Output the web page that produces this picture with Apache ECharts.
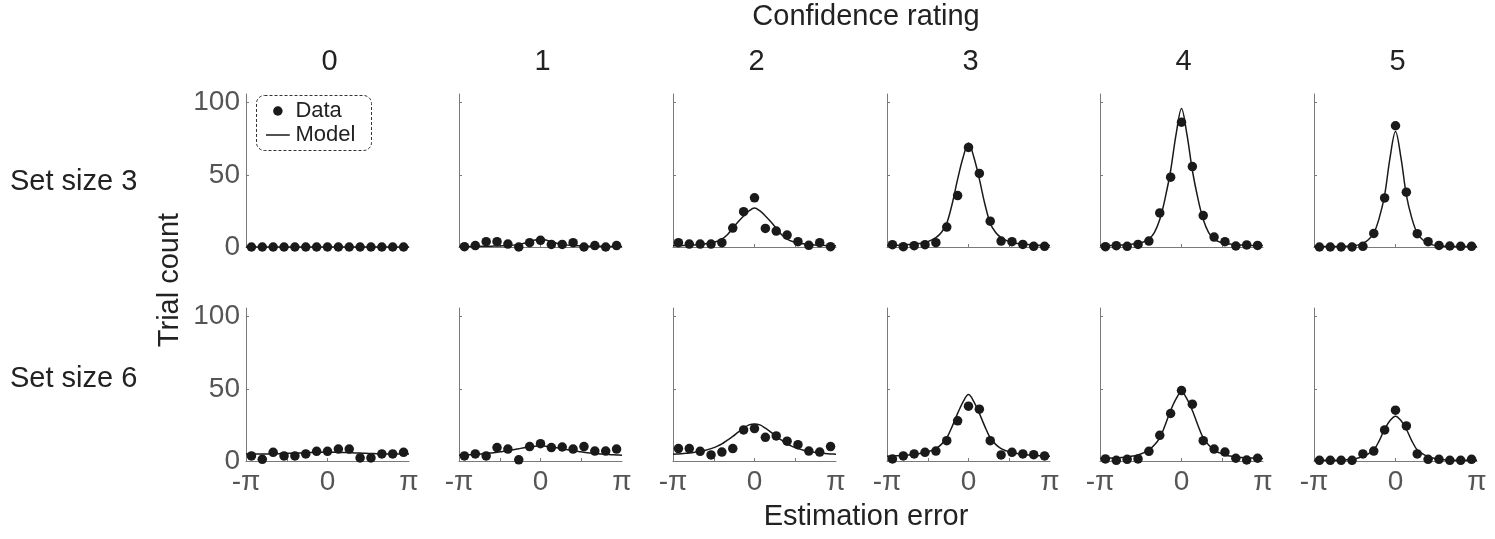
<!DOCTYPE html>
<html><head><meta charset="utf-8">
<script src="https://cdn.jsdelivr.net/npm/echarts@6/dist/echarts.min.js"></script>
<style>html,body{margin:0;padding:0;background:#fff}#c{width:1495px;height:539px}</style>
</head><body><div id="c"></div>
<script>
// ---------- data ----------
const confidenceLevels = ['0','1','2','3','4','5'];
const setSizes = ['Set size 3','Set size 6'];
const xTickLabels = ['-π','0','π'];
const yTickValues = [0,50,100];
const nBins = 15;      // data bins over [-π, π]
const nModelPts = 31;  // model samples over [-π, π]

// Set size 3
const data_ss3_c0 = [0,0,0,0,0,0,0,0,0,0,0,0,0,0,0];
const model_ss3_c0 = [0,0,0,0,0,0,0,0,0,0,0,0,0,0,0,0,0,0,0,0,0,0,0,0,0,0,0,0,0,0,0];
const data_ss3_c1 = [0.2,1,3.7,3.7,2,0,3,4.6,1.8,1.8,3,0,1,0,1];
const model_ss3_c1 = [0.4,0.4,0.4,0.4,0.5,0.5,0.6,0.7,0.8,1.0,1.3,1.8,2.6,3.6,4.8,5.5,4.8,3.6,2.6,1.8,1.3,1.0,0.8,0.7,0.6,0.5,0.5,0.4,0.4,0.4,0.4];
const data_ss3_c2 = [3,2,2,2,3,13.1,24.5,34.1,12.9,11,8.3,3.7,1.2,3,0.2];
const model_ss3_c2 = [0.8,0.9,1.0,1.2,1.4,1.8,2.2,2.8,3.8,5.5,8.5,13,17.5,21.5,25,27,25,21.5,17.5,13,8.5,5.5,3.8,2.8,2.2,1.8,1.4,1.2,1.0,0.9,0.8];
const data_ss3_c3 = [1.6,0.2,0.9,1.6,3,13.8,35.6,69,51,17.9,4.1,3.7,1.8,0.5,0.5];
const model_ss3_c3 = [1,1,1.2,1.4,1.7,2,2.5,3,4.5,6.5,10,16.5,30,47,62,72,62,47,30,16.5,10,6.5,4.5,3,2.5,2,1.7,1.4,1.2,1,1];
const data_ss3_c4 = [0.2,0.9,0.5,1.8,4.1,23.6,48.4,86.5,55.7,21.8,6.9,3.7,0.7,1.4,1.1];
const model_ss3_c4 = [1,1,1.1,1.2,1.3,1.5,2,2.5,3.5,5.5,10,19,34,53,78,96,78,53,34,19,10,5.5,3.5,2.5,2,1.5,1.3,1.2,1.1,1,1];
const data_ss3_c5 = [0,0,0,0,0.5,9.4,34,84,38,9.2,3.7,1.1,0.7,0.5,0.5];
const model_ss3_c5 = [0.3,0.3,0.3,0.3,0.3,0.4,0.5,0.8,1.3,2.5,5,9.5,20,36,62,80,62,36,20,9.5,5,2.5,1.3,0.8,0.5,0.4,0.3,0.3,0.3,0.3,0.3];

// Set size 6
const data_ss6_c0 = [3.5,1.2,6,3.5,3.5,4.9,6.7,6.7,8.3,8.3,2.1,2.1,4.9,4.9,6];
const model_ss6_c0 = [4.8,4.8,4.8,4.9,4.9,5.0,5.1,5.2,5.3,5.5,5.6,5.8,5.9,6.0,6.1,6.2,6.1,6.0,5.9,5.8,5.6,5.5,5.3,5.2,5.1,5.0,4.9,4.9,4.8,4.8,4.8];
const data_ss6_c1 = [3.5,4.9,3.5,9.3,8.3,0.8,10,12,9.3,9.7,8.3,10,6.9,6.9,8.3];
const model_ss6_c1 = [4.0,4.2,4.4,4.6,4.9,5.2,5.6,6.0,6.6,7.2,7.8,8.5,9.2,9.8,10.3,10.5,10.3,9.8,9.2,8.5,7.8,7.2,6.6,6.0,5.6,5.2,4.9,4.6,4.4,4.2,4.0];
const data_ss6_c2 = [8.6,8.6,6.7,4.2,6.2,8.6,21.5,22.5,16.4,17.4,13.7,11.3,6.9,6.2,10];
const model_ss6_c2 = [4.6,4.9,5.2,5.5,6,6.7,7.5,8.6,10,11.8,14.5,17,20,22.7,25,25.7,25,22.7,20,17,14.5,11.8,10,8.6,7.5,6.7,6,5.5,5.2,4.9,4.6];
const data_ss6_c3 = [1.4,3.5,4.9,6,6.9,14.1,27.8,38,35.9,14.1,4.2,6,4.9,4.4,3.5];
const model_ss6_c3 = [3.3,3.5,3.7,3.9,4.2,4.6,5.2,5.8,7,8.5,11.5,16,24,33,41,46,41,33,24,16,11.5,8.5,7,5.8,5.2,4.6,4.2,3.9,3.7,3.5,3.3];
const data_ss6_c4 = [1.4,0.5,1.2,1.4,6.7,17.8,32.9,48.8,39.4,14.1,8.3,6.2,1.9,0.7,1.9];
const model_ss6_c4 = [1.8,1.9,2.0,2.1,2.4,2.8,3.4,4.2,5.6,7.6,11,16,25,35,43,48,43,35,25,16,11,7.6,5.6,4.2,3.4,2.8,2.4,2.1,2.0,1.9,1.8];
const data_ss6_c5 = [0.5,0.5,0.5,0.5,4.9,6.9,21.5,35.2,24.3,4.9,1.2,1.2,0.5,0.5,1.2];
const model_ss6_c5 = [0.5,0.5,0.5,0.5,0.5,0.6,0.8,1.2,2,3,5,7.6,14,22,28,31,28,22,14,7.6,5,3,2,1.2,0.8,0.6,0.5,0.5,0.5,0.5,0.5];

// ---------- build ----------
const panelData = [
  [data_ss3_c0,data_ss3_c1,data_ss3_c2,data_ss3_c3,data_ss3_c4,data_ss3_c5],
  [data_ss6_c0,data_ss6_c1,data_ss6_c2,data_ss6_c3,data_ss6_c4,data_ss6_c5]
];
const panelModel = [
  [model_ss3_c0,model_ss3_c1,model_ss3_c2,model_ss3_c3,model_ss3_c4,model_ss3_c5],
  [model_ss6_c0,model_ss6_c1,model_ss6_c2,model_ss6_c3,model_ss6_c4,model_ss6_c5]
];
const PI = Math.PI;
const binCenters = Array.from({length:nBins}, (_,i) => -PI + (i+0.5)*2*PI/nBins);
const modelX = Array.from({length:nModelPts}, (_,k) => -PI + k*2*PI/(nModelPts-1));

const FONT = '"Liberation Sans", Arial, Helvetica, sans-serif';
const AXIS_COLOR = '#7a7a7a';
const LABEL_COLOR = '#555555';
const TEXT_COLOR = '#222222';
const MARK_COLOR = '#1a1a1a';
const lefts = [246, 459, 673, 887, 1100, 1314];
const tops = [94, 308];
const W = 163, H = 153;

const grid = [], xAxis = [], yAxis = [], series = [];
for (let r = 0; r < 2; r++) {
  for (let c = 0; c < 6; c++) {
    const p = r*6 + c;
    grid.push({left: lefts[c], top: tops[r], width: W, height: H, containLabel: false});
    xAxis.push({
      type: 'value', gridIndex: p, min: -PI, max: PI,
      axisLine: {show: true, onZero: false, lineStyle: {color: AXIS_COLOR, width: 1}},
      axisTick: {show: true, inside: true, length: 3, customValues: [-PI/2, 0, PI/2], lineStyle: {color: AXIS_COLOR}},
      axisLabel: {
        show: r === 1, customValues: [-PI, 0, PI], margin: 7,
        color: LABEL_COLOR, fontSize: 28, fontFamily: FONT,
        formatter: v => Math.abs(v) < 1e-9 ? xTickLabels[1] : (v < 0 ? xTickLabels[0] : xTickLabels[2])
      },
      splitLine: {show: false}
    });
    yAxis.push({
      type: 'value', gridIndex: p, min: 0, max: 106,
      axisLine: {show: true, onZero: false, lineStyle: {color: AXIS_COLOR, width: 1}},
      axisTick: {show: true, inside: true, length: 3, customValues: yTickValues.slice(1), lineStyle: {color: AXIS_COLOR}},
      axisLabel: {
        show: c === 0, customValues: yTickValues, margin: 6, padding: [7,0,0,0],
        color: LABEL_COLOR, fontSize: 28, fontFamily: FONT
      },
      splitLine: {show: false}
    });
    series.push({
      type: 'line', name: 'Model', xAxisIndex: p, yAxisIndex: p,
      data: modelX.map((x,k) => [x, panelModel[r][c][k]]),
      symbol: 'none', showSymbol: false, smooth: 0.35, clip: false,
      lineStyle: {color: MARK_COLOR, width: 1.5}, itemStyle: {color: MARK_COLOR},
      z: 2, silent: true, animation: false
    });
    series.push({
      type: 'scatter', name: 'Data', xAxisIndex: p, yAxisIndex: p,
      data: binCenters.map((x,i) => [x, panelData[r][c][i]]),
      symbol: 'circle', symbolSize: 9.5, clip: false,
      itemStyle: {color: MARK_COLOR, opacity: 1}, z: 3, silent: true, animation: false
    });
  }
}

const graphic = [
  {type: 'text', x: 866, y: 17, style: {text: 'Confidence rating', fill: TEXT_COLOR, font: '29px ' + FONT, textAlign: 'center', textVerticalAlign: 'middle'}},
  ...confidenceLevels.map((t,c) => ({type: 'text', x: lefts[c] + W/2 + 2, y: 62, style: {text: t, fill: TEXT_COLOR, font: '29px ' + FONT, textAlign: 'center', textVerticalAlign: 'middle'}})),
  ...setSizes.map((t,r) => ({type: 'text', x: 10, y: [182, 379][r], style: {text: t, fill: TEXT_COLOR, font: '29px ' + FONT, textAlign: 'left', textVerticalAlign: 'middle'}})),
  {type: 'text', x: 170, y: 280, rotation: PI/2, style: {text: 'Trial count', fill: TEXT_COLOR, font: '29px ' + FONT, textAlign: 'center', textVerticalAlign: 'middle'}},
  {type: 'text', x: 866, y: 517, style: {text: 'Estimation error', fill: TEXT_COLOR, font: '29px ' + FONT, textAlign: 'center', textVerticalAlign: 'middle'}},
  {type: 'rect', shape: {x: 256.5, y: 95.5, width: 115, height: 55, r: 8}, style: {fill: 'none', stroke: '#333', lineWidth: 1, lineDash: [3,2]}, z: 10}
];

// legend line icon: thin bar in the middle; two invisible specks fix the icon's box height
const lineIcon = 'path://M0,4.25 L25,4.25 L25,5.75 L0,5.75 Z M0,0 L0.01,0 L0.01,0.01 Z M0,10 L0.01,10 L0.01,9.99 Z';

const chart = echarts.init(document.getElementById('c'), null, {renderer: 'canvas'});
chart.setOption({
  animation: false,
  backgroundColor: '#ffffff',
  grid, xAxis, yAxis, series, graphic,
  legend: {
    data: [{name: 'Data', icon: 'circle', itemStyle: {color: MARK_COLOR, opacity: 1}},
           {name: 'Model', icon: lineIcon, itemStyle: {color: MARK_COLOR, opacity: 1, borderWidth: 0}}],
    orient: 'vertical', left: 266, top: 100,
    itemWidth: 25, itemHeight: 9.5, itemGap: 2, padding: 0, selectedMode: false,
    textStyle: {fontSize: 22, color: TEXT_COLOR, fontFamily: FONT}
  }
});
</script></body></html>
